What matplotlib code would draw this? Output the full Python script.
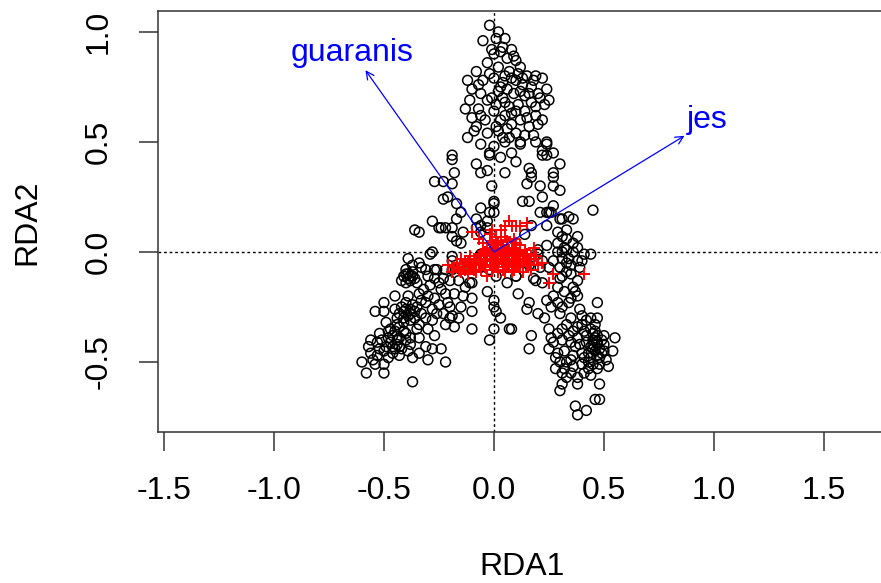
import matplotlib
matplotlib.use("Agg")
import matplotlib.pyplot as plt

plt.rcParams['font.family'] = ['Liberation Sans', 'DejaVu Sans']

# site scores (black circles), grouped by region
upper = [(-0.02, 1.03), (0.02, 1.00), (0.05, 0.97), (-0.05, 0.96), (0.04, 0.93), (0.08, 0.92),
         (0.00, 0.90), (0.06, 0.88), (0.10, 0.87), (-0.03, 0.86), (0.02, 0.84), (0.12, 0.84),
         (-0.08, 0.82), (0.07, 0.82), (0.15, 0.80), (0.19, 0.80), (0.22, 0.79), (-0.12, 0.78),
         (-0.05, 0.78), (0.00, 0.79), (0.04, 0.77), (0.10, 0.78), (0.13, 0.76), (0.17, 0.75),
         (0.24, 0.74), (-0.10, 0.74), (-0.06, 0.72), (0.02, 0.73), (0.06, 0.74), (0.09, 0.72),
         (0.14, 0.71), (0.20, 0.72), (0.25, 0.69), (-0.11, 0.69), (-0.03, 0.69), (0.01, 0.67),
         (0.05, 0.68), (0.11, 0.67), (0.17, 0.68), (0.23, 0.67), (-0.07, 0.65), (0.00, 0.64),
         (0.08, 0.63), (0.14, 0.64), (0.19, 0.62), (-0.10, 0.61), (-0.04, 0.60), (0.03, 0.60),
         (0.12, 0.60), (0.22, 0.60), (-0.08, 0.57), (0.01, 0.57), (0.06, 0.56), (0.16, 0.57),
         (-0.03, 0.54), (0.10, 0.54), (-0.12, 0.52), (0.04, 0.52), (0.18, 0.53), (0.24, 0.50),
         (0.12, 0.50), (-0.06, 0.49), (0.00, 0.48), (0.22, 0.46), (0.27, 0.45), (0.08, 0.45),
         (-0.02, 0.44), (0.10, 0.41), (0.30, 0.40), (-0.08, 0.40), (0.16, 0.38), (0.05, 0.36),
         (-0.06, 0.36), (-0.01, 0.30), (0.15, 0.31), (-0.02, 0.45), (0.03, 0.43), (-0.03, 0.37),
         (0.00, 0.23), (-0.02, 0.18), (-0.03, 0.14), (-0.03, 0.11), (0.05, 0.50), (0.12, 0.49),
         (0.19, 0.50), (0.24, 0.49), (0.22, 0.44), (0.24, 0.44), (0.17, 0.36), (0.17, 0.34),
         (0.27, 0.36), (0.27, 0.34), (0.01, 0.97), (0.03, 0.91), (-0.01, 0.92), (0.09, 0.89),
         (0.11, 0.81), (0.05, 0.80), (-0.02, 0.81), (0.08, 0.79), (0.12, 0.73), (0.16, 0.72),
         (0.04, 0.70), (0.07, 0.66), (-0.01, 0.70), (0.10, 0.64), (0.05, 0.62), (0.15, 0.61),
         (0.19, 0.66), (0.20, 0.58), (0.08, 0.58), (-0.06, 0.62), (0.02, 0.55), (0.14, 0.53),
         (0.07, 0.52), (-0.09, 0.55), (0.21, 0.70), (0.18, 0.78), (0.13, 0.79), (-0.07, 0.76),
         (0.03, 0.75), (-0.13, 0.65)]

left_wing = [(-0.19, 0.44), (-0.19, 0.42), (-0.18, 0.36), (-0.27, 0.32), (-0.23, 0.32),
             (-0.19, 0.31), (-0.21, 0.25), (-0.23, 0.24), (-0.17, 0.22), (-0.15, 0.18),
             (-0.25, 0.11), (-0.19, 0.11), (-0.08, 0.15), (-0.08, 0.11), (-0.34, 0.09),
             (-0.24, 0.11), (-0.22, 0.11), (-0.19, 0.07), (-0.17, 0.05), (-0.15, 0.04),
             (-0.06, 0.20), (0.00, 0.22), (0.00, 0.18), (-0.06, 0.12), (-0.06, 0.09),
             (-0.14, 0.09), (-0.17, 0.15), (-0.36, 0.10), (-0.28, 0.14)]

centre = [(-0.28, 0.00), (-0.19, -0.02), (-0.19, -0.04), (-0.06, -0.01), (-0.05, -0.01),
          (-0.09, -0.07), (-0.06, -0.07), (-0.02, -0.08), (-0.11, -0.14), (0.01, -0.11),
          (0.10, -0.11), (0.06, -0.14), (0.00, -0.22), (0.00, -0.25), (0.01, -0.27),
          (0.00, -0.35), (0.08, -0.35), (-0.02, -0.40), (-0.10, -0.35), (0.03, -0.30),
          (-0.03, -0.18)]

right = [(0.13, 0.23), (0.16, 0.23), (0.22, 0.25), (0.21, 0.30), (0.27, 0.30), (0.30, 0.28),
         (0.21, 0.18), (0.24, 0.18), (0.26, 0.18), (0.45, 0.19), (0.30, 0.15), (0.34, 0.16),
         (0.36, 0.15), (0.29, 0.09), (0.31, 0.07), (0.33, 0.10), (0.20, 0.01), (0.20, -0.01),
         (0.29, 0.04), (0.29, 0.00), (0.33, 0.01), (0.38, 0.02), (0.41, -0.01), (0.44, -0.01),
         (0.16, -0.06), (0.21, -0.07), (0.30, -0.07), (0.33, -0.05), (0.33, -0.09), (0.39, -0.07),
         (0.10, -0.11), (0.31, -0.11), (0.22, -0.04), (0.25, 0.18), (0.31, 0.15), (0.33, 0.06),
         (0.38, 0.07), (0.32, 0.02), (0.36, 0.00), (0.38, -0.04), (0.18, -0.12), (0.38, -0.13),
         (0.25, -0.07), (0.34, -0.03), (0.31, -0.03), (0.31, 0.00), (0.35, -0.06), (0.19, -0.13),
         (0.22, -0.14), (0.30, -0.12), (0.24, 0.12), (0.27, 0.21), (0.36, 0.04), (0.40, -0.04),
         (0.35, -0.10), (0.27, -0.04), (0.24, 0.03), (0.14, 0.08), (0.17, 0.12)]

lower_right = [(0.29, -0.16), (0.36, -0.16), (0.37, -0.18), (0.35, -0.21), (0.38, -0.20),
               (0.11, -0.19), (0.16, -0.23), (0.15, -0.26), (0.29, -0.23), (0.26, -0.25),
               (0.30, -0.28), (0.35, -0.30), (0.39, -0.26), (0.40, -0.29), (0.47, -0.23),
               (0.44, -0.30), (0.47, -0.30), (0.23, -0.30), (0.07, -0.35), (0.17, -0.38),
               (0.16, -0.44), (0.25, -0.35), (0.26, -0.39), (0.31, -0.40), (0.31, -0.35),
               (0.36, -0.36), (0.38, -0.39), (0.41, -0.36), (0.45, -0.40), (0.44, -0.43),
               (0.47, -0.41), (0.55, -0.39), (0.54, -0.45), (0.50, -0.45), (0.44, -0.48),
               (0.48, -0.48), (0.40, -0.46), (0.36, -0.47), (0.32, -0.45), (0.28, -0.48),
               (0.30, -0.50), (0.28, -0.53), (0.32, -0.53), (0.36, -0.52), (0.40, -0.51),
               (0.45, -0.51), (0.52, -0.52), (0.31, -0.55), (0.35, -0.55), (0.41, -0.55),
               (0.31, -0.60), (0.38, -0.60), (0.48, -0.60), (0.30, -0.63), (0.46, -0.67),
               (0.48, -0.67), (0.42, -0.72), (0.38, -0.74), (0.45, -0.37), (0.46, -0.39),
               (0.47, -0.42), (0.48, -0.44), (0.46, -0.45), (0.49, -0.40), (0.45, -0.44),
               (0.47, -0.47), (0.43, -0.46), (0.49, -0.46), (0.42, -0.41), (0.44, -0.35),
               (0.46, -0.33), (0.50, -0.42), (0.51, -0.49), (0.43, -0.50), (0.47, -0.53),
               (0.44, -0.56), (0.33, -0.57), (0.29, -0.46), (0.25, -0.44), (0.35, -0.41),
               (0.33, -0.33), (0.27, -0.20), (0.32, -0.18), (0.40, -0.33), (0.37, -0.43),
               (0.37, -0.70), (0.45, -0.42), (0.47, -0.38), (0.48, -0.51), (0.43, -0.53),
               (0.41, -0.48), (0.39, -0.42), (0.50, -0.38), (0.46, -0.36), (0.42, -0.38),
               (0.35, -0.49), (0.38, -0.57), (0.33, -0.50), (0.27, -0.41), (0.29, -0.37),
               (0.34, -0.38), (0.38, -0.34), (0.42, -0.31), (0.31, -0.25), (0.34, -0.23),
               (0.24, -0.22), (0.20, -0.28)]

lower_left = [(-0.39, -0.03), (-0.29, -0.01), (-0.37, -0.06), (-0.34, -0.05), (-0.33, -0.07),
              (-0.27, -0.08), (-0.26, -0.08), (-0.22, -0.08), (-0.19, -0.08), (-0.15, -0.08),
              (-0.39, -0.10), (-0.37, -0.11), (-0.40, -0.14), (-0.35, -0.14), (-0.30, -0.11),
              (-0.27, -0.12), (-0.25, -0.14), (-0.20, -0.13), (-0.10, -0.14), (-0.45, -0.20),
              (-0.39, -0.20), (-0.34, -0.19), (-0.30, -0.20), (-0.27, -0.21), (-0.22, -0.19),
              (-0.18, -0.19), (-0.14, -0.20), (-0.10, -0.21), (-0.50, -0.23), (-0.54, -0.27),
              (-0.50, -0.27), (-0.45, -0.26), (-0.41, -0.27), (-0.38, -0.26), (-0.35, -0.25),
              (-0.31, -0.23), (-0.25, -0.24), (-0.21, -0.23), (-0.19, -0.29), (-0.20, -0.30),
              (-0.16, -0.30), (-0.10, -0.27), (-0.41, -0.30), (-0.38, -0.31), (-0.28, -0.31),
              (-0.34, -0.33), (-0.30, -0.35), (-0.27, -0.38), (-0.47, -0.35), (-0.43, -0.34),
              (-0.40, -0.37), (-0.38, -0.39), (-0.48, -0.39), (-0.44, -0.40), (-0.56, -0.40),
              (-0.53, -0.41), (-0.49, -0.43), (-0.43, -0.43), (-0.38, -0.42), (-0.56, -0.46),
              (-0.53, -0.47), (-0.48, -0.48), (-0.43, -0.47), (-0.37, -0.48), (-0.30, -0.49),
              (-0.22, -0.50), (-0.54, -0.51), (-0.50, -0.51), (-0.58, -0.55), (-0.50, -0.55),
              (-0.37, -0.59), (-0.40, -0.10), (-0.38, -0.11), (-0.37, -0.09), (-0.39, -0.12),
              (-0.36, -0.12), (-0.41, -0.11), (-0.42, -0.25), (-0.40, -0.26), (-0.38, -0.28),
              (-0.36, -0.27), (-0.39, -0.29), (-0.37, -0.24), (-0.43, -0.28), (-0.41, -0.32),
              (-0.45, -0.36), (-0.46, -0.38), (-0.44, -0.42), (-0.42, -0.44), (-0.40, -0.40),
              (-0.47, -0.41), (-0.45, -0.44), (-0.41, -0.36), (-0.50, -0.45), (-0.46, -0.46),
              (-0.32, -0.17), (-0.29, -0.15), (-0.24, -0.17), (-0.33, -0.22), (-0.28, -0.26),
              (-0.23, -0.28), (-0.15, -0.25), (-0.13, -0.16), (-0.60, -0.50), (-0.57, -0.43),
              (-0.52, -0.37), (-0.49, -0.32), (-0.34, -0.39), (-0.31, -0.43), (-0.33, -0.28),
              (-0.24, -0.44), (-0.40, -0.08), (-0.38, -0.13), (-0.42, -0.13), (-0.44, -0.30),
              (-0.40, -0.23), (-0.36, -0.30), (-0.44, -0.33), (-0.46, -0.43), (-0.43, -0.39),
              (-0.39, -0.45), (-0.48, -0.36), (-0.51, -0.40), (-0.52, -0.44), (-0.55, -0.49),
              (-0.35, -0.35), (-0.31, -0.30), (-0.26, -0.28), (-0.22, -0.33), (-0.18, -0.34),
              (-0.28, -0.44), (-0.34, -0.46), (-0.20, -0.25), (-0.16, -0.13), (-0.23, -0.12),
              (-0.31, -0.08)]

# species scores (red crosses)
species = [(0.00, 0.00), (0.02, -0.01), (0.04, 0.00), (0.06, -0.02), (0.08, -0.01), (0.10, -0.03),
           (0.03, -0.03), (0.05, -0.04), (0.01, -0.05), (-0.02, -0.02), (-0.04, -0.03), (-0.06, -0.04),
           (-0.08, -0.05), (-0.10, -0.06), (-0.12, -0.05), (-0.14, -0.07), (-0.16, -0.08), (-0.19, -0.09),
           (-0.03, 0.01), (0.00, 0.03), (0.02, 0.02), (0.04, 0.03), (0.07, 0.01), (0.09, 0.02),
           (0.12, 0.00), (0.13, -0.02), (0.15, -0.01), (0.11, -0.05), (0.07, -0.05), (0.02, -0.07),
           (-0.01, -0.08), (-0.05, -0.06), (-0.07, -0.02), (-0.09, -0.03), (-0.11, -0.02), (-0.13, -0.04),
           (-0.15, -0.03), (-0.01, 0.05), (0.01, 0.07), (-0.02, 0.08), (0.03, 0.10), (0.05, 0.12),
           (0.08, 0.12), (0.12, 0.12), (0.15, 0.13), (-0.10, 0.09), (-0.07, 0.06), (-0.05, 0.04),
           (0.06, 0.05), (0.09, 0.06), (0.18, -0.03), (0.20, -0.06), (0.17, -0.08), (0.25, -0.14),
           (0.27, -0.10), (0.41, -0.10), (0.13, -0.09), (0.09, -0.08), (0.05, -0.09), (-0.03, -0.11),
           (-0.08, -0.09), (-0.12, -0.10), (0.00, -0.02), (0.01, 0.01), (0.03, 0.00), (0.05, 0.01),
           (0.07, -0.03), (0.09, -0.04), (-0.01, -0.03), (-0.03, -0.04), (0.04, -0.02), (0.06, 0.00),
           (0.08, 0.02), (0.11, -0.01), (0.14, -0.04), (0.16, -0.05), (0.02, 0.04), (-0.02, 0.02),
           (-0.04, 0.00), (-0.06, -0.01), (-0.09, -0.06), (-0.11, -0.07), (0.12, 0.03), (0.10, 0.04),
           (0.22, -0.05), (0.19, -0.02), (-0.17, -0.05), (-0.21, -0.06), (0.02, -0.03), (0.04, -0.05),
           (0.06, -0.06), (0.08, -0.06), (0.10, -0.07), (0.12, -0.06), (0.03, 0.01), (0.05, -0.01),
           (0.07, 0.00), (0.09, -0.02), (0.11, -0.03), (0.13, -0.05), (0.15, -0.06), (0.01, -0.02),
           (-0.01, -0.01), (0.00, -0.06), (-0.02, -0.06), (-0.04, -0.07), (-0.06, -0.08), (0.04, -0.08),
           (0.08, -0.09), (0.02, -0.09), (-0.07, -0.06), (-0.09, -0.08), (-0.13, -0.08), (-0.15, -0.09),
           (-0.18, -0.07), (0.01, 0.02), (0.06, 0.02), (0.10, 0.01), (0.14, 0.01), (0.17, -0.02),
           (0.03, 0.05), (0.05, 0.07), (-0.01, 0.10), (0.18, 0.02), (0.07, 0.14), (0.10, 0.12)]

# biplot arrows for the constraining variables
arrow_names = ["guaranis", "jes"]
arrow_x = [-0.584, 0.866]
arrow_y = [0.826, 0.528]
label_x = [-0.645, 0.968]
label_y = [0.905, 0.600]

sites = upper + left_wing + centre + right + lower_right + lower_left
sx = [p[0] for p in sites]
sy = [p[1] for p in sites]
spx = [p[0] for p in species]
spy = [p[1] for p in species]

fig = plt.figure(figsize=(8.81, 5.83), dpi=100)
ax = fig.add_axes([158 / 881, (583 - 432) / 583, (886 - 158) / 881, (432 - 11) / 583])

ax.axhline(0, color='black', linestyle=(0, (2, 2)), linewidth=1.0, zorder=1)
ax.axvline(0, color='black', linestyle=(0, (2, 2)), linewidth=1.0, zorder=1)

ax.scatter(sx, sy, s=50, facecolors='none', edgecolors='black', linewidths=1.1, zorder=2)
ax.scatter(spx, spy, s=80, marker='+', color='red', linewidths=1.4, zorder=3)

for name, ex, ey, lx, ly in zip(arrow_names, arrow_x, arrow_y, label_x, label_y):
    ax.annotate("", xy=(ex, ey), xytext=(0, 0),
                arrowprops=dict(arrowstyle='->', color='blue', lw=0.9,
                                mutation_scale=14, shrinkA=0, shrinkB=0), zorder=4)
    ax.text(lx, ly, name, color='blue', fontsize=23, ha='center', va='center', zorder=5)

ax.set_xlim(-1.527, 1.782)
ax.set_ylim(-0.818, 1.095)
ax.set_xticks([-1.5, -1.0, -0.5, 0.0, 0.5, 1.0, 1.5])
ax.set_yticks([-0.5, 0.0, 0.5, 1.0])
ax.set_xticklabels(["-1.5", "-1.0", "-0.5", "0.0", "0.5", "1.0", "1.5"])
ax.set_yticklabels(["-0.5", "0.0", "0.5", "1.0"], rotation=90, va='center')

ax.tick_params(direction='out', length=14, width=1.1, labelsize=23, pad=18, color='#333333')
for sp in ax.spines.values():
    sp.set_linewidth(1.1)
    sp.set_color('#333333')

fig.text(522 / 881, 1 - 567 / 583, "RDA1", fontsize=23, ha='center', va='center')
fig.text(27 / 881, 1 - 222 / 583, "RDA2", fontsize=23, ha='center', va='center', rotation=90)

fig.savefig("out.png", dpi=100)
